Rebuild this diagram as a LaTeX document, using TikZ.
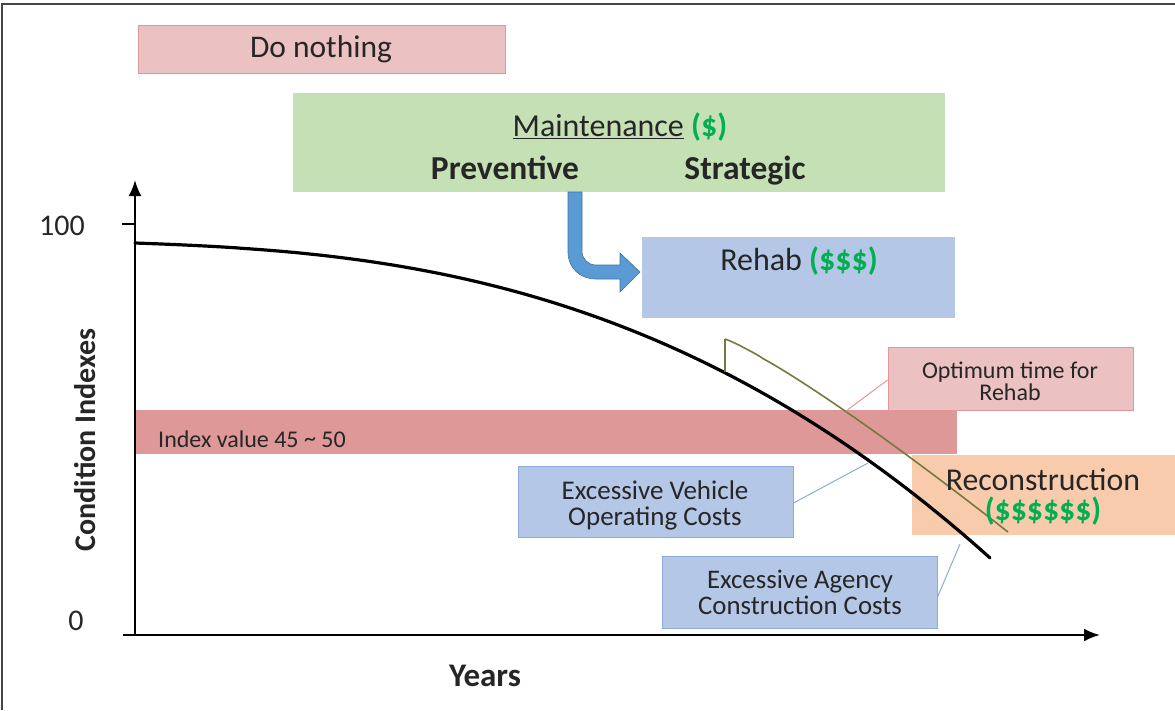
\documentclass[tikz,border=0pt]{standalone}
\usepackage{fontspec}
\setmainfont{Carlito}
\usetikzlibrary{arrows.meta}
\definecolor{pinkfill}{RGB}{235,193,193}
\definecolor{pinkline}{RGB}{226,150,150}
\definecolor{greenfill}{RGB}{197,224,180}
\definecolor{bluefill}{RGB}{180,199,231}
\definecolor{blueline}{RGB}{143,170,220}
\definecolor{bandred}{RGB}{222,152,152}
\definecolor{peach}{RGB}{248,203,173}
\definecolor{money}{RGB}{0,176,80}
\definecolor{arrowblue}{RGB}{91,155,213}
\definecolor{arrowedge}{RGB}{65,113,156}
\definecolor{olive}{RGB}{120,120,60}
\definecolor{frame}{RGB}{70,70,70}
\newcommand{\fs}[2]{\fontsize{#1}{#2}\selectfont}
\begin{document}
\begin{tikzpicture}[x=1pt,y=-1pt,
  box/.style={rectangle, inner sep=0pt, line width=1pt},
  lbl/.style={inner sep=0pt, text=black!85},
  axis/.style={line width=2.4pt, -{Latex[length=16pt,width=13pt]}},
  callout/.style={line width=1pt}]
\useasboundingbox (0,0) rectangle (1175,710);

% outer frame (left and top edges)
\draw[frame, line width=1.5pt] (2,710) -- (2,4) -- (1175,4);

% index band
\node[box, fill=bandred, minimum width=822pt, minimum height=44pt] (band) at (546,432) {};
\node[lbl, anchor=west, font=\fs{24}{26}] (bandtext) at (158,439) {Index value 45 {\raisebox{0.1ex}{\textasciitilde}} 50};

% boxes
\node[box, fill=pinkfill, draw=pinkline, minimum width=367pt, minimum height=48pt] (donothing) at (321.5,49) {};
\node[lbl, font=\fs{31.5}{33}] (donothingtext) at (321,49) {Do nothing};

\node[box, fill=greenfill, minimum width=652pt, minimum height=99pt] (maint) at (619,142.5) {};
\node[lbl, font=\fs{32}{34}] (mainttext) at (620,127) {\underline{Maintenance} \textcolor{money}{\textbf{(\$)}}};
\node[lbl, font=\bfseries\fs{33.5}{35}, anchor=base] (prev) at (505,179) {Preventive};
\node[lbl, font=\bfseries\fs{33.5}{35}, anchor=base] (strat) at (745,179) {Strategic};

\node[box, fill=bluefill, minimum width=313pt, minimum height=81pt] (rehab) at (798.5,277.5) {};
\node[lbl, font=\fs{32}{34}] (rehabtext) at (799,261) {Rehab \textcolor{money}{\textbf{(\$\$\$)}}};

\node[box, fill=pinkfill, draw=pinkline, minimum width=245pt, minimum height=63pt] (optimum) at (1010.5,378.5) {};
\node[lbl, font=\fs{24}{22}, align=center] (optimumtext) at (1010,381) {Optimum time for\\Rehab};

\node[box, fill=bluefill, draw=blueline, minimum width=275pt, minimum height=71pt] (vehicle) at (655.5,501.5) {};
\node[lbl, font=\fs{27}{26}, align=center] (vehicletext) at (655,505) {Excessive Vehicle\\Operating Costs};

\node[box, fill=peach, minimum width=266pt, minimum height=80pt] (recon) at (1045,495) {};

\node[box, fill=bluefill, draw=blueline, minimum width=275pt, minimum height=72pt] (agency) at (799.5,592) {};
\node[lbl, font=\fs{26.8}{26}, align=center] (agencytext) at (800,592) {Excessive Agency\\Construction Costs};

% axes
\coordinate (ytop) at (135,180);
\coordinate (xend) at (1100,635);
\draw[axis] (135,636) -- (ytop);
\draw[axis] (123,635) -- (xend);
\draw[line width=1.5pt] (122,224) -- (135,224);
\node[lbl, font=\fs{30}{32}] (hundred) at (62,226) {100};
\node[lbl, font=\fs{30}{32}] (zero) at (76,621) {0};
\node[lbl, font=\bfseries\fs{33}{35}] (years) at (485,676) {Years};
\node[lbl, font=\bfseries\fs{30}{32}, rotate=90] (cond) at (85,440) {Condition Indexes};

% maintenance-to-rehab bent arrow
\filldraw[fill=arrowblue, draw=arrowedge, line width=0.6pt]
  (568,192) -- (568,252) .. controls (568,268) and (580,279) .. (596,279)
  -- (620,279) -- (620,292) -- (640,272) -- (620,253) -- (620,265)
  -- (596,265) .. controls (588,265) and (582,259) .. (582,251)
  -- (582,192) -- cycle;

% deterioration curve
\draw[line width=3.2pt, line cap=round] plot[domain=135:990, samples=120]
  (\x, {243+315*(0.1*(\x-135)/855+0.9*((\x-135)/855)^2.6)});

% rehabilitated curve
\draw[olive, line width=1.6pt] (725,372) -- (725,339)
  plot[domain=725:1008, samples=60] (\x, {339+193*((\x-725)/283)^1.15});

% callout connectors
\coordinate (optpt) at (846,411);
\coordinate (vehpt) at (868,463);
\coordinate (agpt) at (960,544);
\draw[callout, pinkline] (optimum.west |- 0,380) -- (optpt);
\draw[callout, blueline] (vehicle.east |- 0,503) -- (vehpt);
\draw[callout, blueline] (agency.east |- 0,597) -- (agpt);

% reconstruction label
\node[lbl, font=\fs{31.8}{30}, align=center] (recontext) at (1043,497)
  {Reconstruction\\\textcolor{money}{\textbf{(\$\$\$\$\$\$)}}};
\end{tikzpicture}
\end{document}
